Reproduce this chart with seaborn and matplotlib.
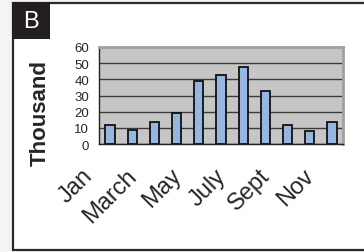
import numpy as np
import pandas as pd
import matplotlib
matplotlib.use("Agg")
import matplotlib.pyplot as plt
import matplotlib.transforms as mtransforms
import seaborn as sns
from matplotlib.patches import Rectangle

# chart data
months = ["Jan", "Feb", "March", "April", "May", "June",
          "July", "Aug", "Sept", "Oct", "Nov"]
values = [11.5, 8.5, 13.5, 19, 39, 42.5, 47.5, 32.5, 12, 8, 13.5]
shown_labels = ["Jan", "March", "May", "July", "Sept", "Nov"]
y_ticks = [0, 10, 20, 30, 40, 50, 60]

df = pd.DataFrame({"month": months, "value": values})

sns.set_style("white")
plt.rcParams["font.family"] = ["Liberation Sans", "DejaVu Sans"]

W, H = 364, 253
fig = plt.figure(figsize=(W / 100, H / 100), dpi=100)
fig.patch.set_facecolor("#f4f4f4")

def px(x0, y0, x1, y1):
    # pixel box (top-left origin) -> figure fraction rect
    return [x0 / W, 1 - y1 / H, (x1 - x0) / W, (y1 - y0) / H]

# white panel with dark frame
l, b, w, h = px(12.5, 3.5, 370, 250.5)
fig.patches.append(Rectangle((l, b), w, h, transform=fig.transFigure,
                             facecolor="white", edgecolor="#2a2a2a", lw=1.6,
                             zorder=-2))
# "B" label box
l, b, w, h = px(12, 3, 50, 40)
fig.patches.append(Rectangle((l, b), w, h, transform=fig.transFigure,
                             facecolor="#231f20", edgecolor="none",
                             zorder=-1))
fig.text(31 / W, 1 - 22 / H, "B", color="white", fontsize=17,
         ha="center", va="center")

ax = fig.add_axes(px(99, 48, 343, 145))
ax.set_facecolor("#c6c6c6")
sns.barplot(data=df, x="month", y="value", ax=ax, width=0.42,
            color="#95b6e0", edgecolor="#111111", linewidth=1.3,
            saturation=1)

ax.set_ylim(0, 60)
ax.set_xlim(-0.5, len(months) - 0.5)
ax.set_yticks(y_ticks)
ax.set_yticklabels([str(t) for t in y_ticks], fontsize=9.5)
ax.yaxis.grid(True, color="#3a3a3a", lw=1.0)
ax.set_axisbelow(True)

# category labels: every other month, rotated, set left of the category
ax.set_xticks(range(len(months)))
ax.set_xticklabels([])
shift = mtransforms.ScaledTranslation(-21 / 100, -28 / 100, fig.dpi_scale_trans)
for i, m in enumerate(months):
    if m in shown_labels:
        ax.text(i, 0, m, transform=ax.get_xaxis_transform() + shift,
                rotation=45, ha="right", va="center",
                rotation_mode="anchor", fontsize=17, clip_on=False)
ax.set_xticks(np.arange(-0.5, len(months)), minor=True)
ax.tick_params(axis="x", which="major", length=0)
ax.tick_params(axis="x", which="minor", length=6, width=1.0,
               color="#222222", direction="out")
ax.tick_params(axis="y", length=5, width=1.0, color="#222222",
               direction="out", pad=2)

for side in ["top", "right"]:
    ax.spines[side].set_color("#a0a0a0")
    ax.spines[side].set_linewidth(2.0)
for side in ["left", "bottom"]:
    ax.spines[side].set_color("#222222")
    ax.spines[side].set_linewidth(1.0)

ax.set_xlabel("")
ax.set_ylabel("")
fig.text(40 / W, 1 - 113 / H, "Thousand", rotation=90, fontsize=16,
         fontweight="bold", ha="center", va="center",
         family=["Liberation Sans Narrow", "Liberation Sans"])

fig.savefig("out.png", dpi=100, facecolor=fig.get_facecolor())
